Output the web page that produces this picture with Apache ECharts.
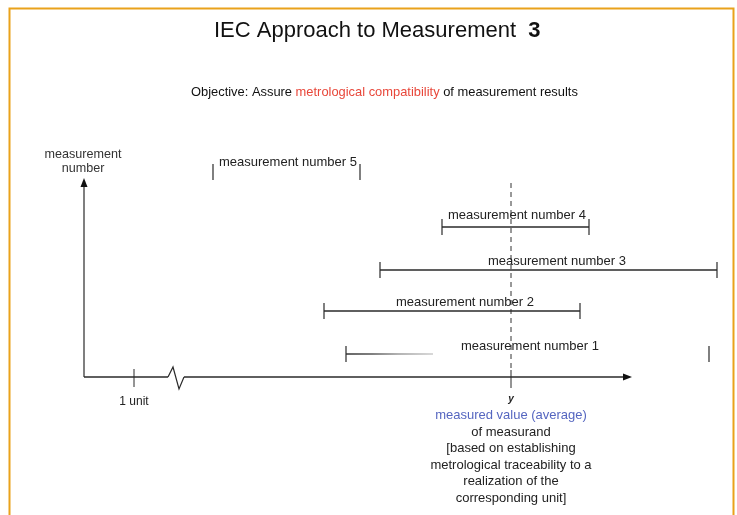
<!DOCTYPE html>
<html>
<head>
<meta charset="utf-8">
<script src="https://cdn.jsdelivr.net/npm/echarts@6/dist/echarts.min.js"></script>
<style>html,body{margin:0;padding:0;background:#fff;}#c{width:737px;height:515px;}</style>
</head>
<body>
<div id="c"></div>
<script>
// ---- data (arbitrary measurand units) ----
const measurementNames = ['measurement number 1','measurement number 2','measurement number 3','measurement number 4','measurement number 5'];
const measurementLevels = [2.3, 6.6, 10.7, 15.0, 20.5];
const lowerBounds = [26.2, 24.0, 29.6, 35.8, 12.9];
const upperBounds = [62.5, 49.6, 63.3, 50.5, 27.6];
const drawnLineEnd = [34.9, 49.6, 63.3, 50.5, null];   // #1 fades out, #5 has no bar
const labelX = [44.6, 38.1, 47.3, 43.3, 20.4];
const labelY = [3.1, 7.5, 11.6, 16.2, 21.5];
const meanValue = 42.7;
const unitTick = 5.0;
const axisBreakAt = 8.4;
const xAxisEnd = 54.8;
const yAxisTop = 19.9;
const dashedTop = 19.4;
const captionLines = ['of measurand','[based on establishing','metrological traceability to a','realization of the','corresponding unit]'];

const FONT = '"Liberation Sans", Arial, sans-serif';
const LINE = '#2a2a2a';
const TXT = '#222';

const chart = echarts.init(document.getElementById('c'), null, {renderer:'canvas'});

function renderAxes(params, api) {
  const o = api.coord([0, 0]);
  const top = api.coord([0, yAxisTop]);
  const xe = api.coord([xAxisEnd, 0]);
  const br = api.coord([axisBreakAt, 0]);
  const ut = api.coord([unitTick, 0]);
  const mv = api.coord([meanValue, 0]);
  const dt = api.coord([meanValue, dashedTop]);
  const ch = [];
  // vertical axis
  ch.push({type:'line', shape:{x1:o[0], y1:o[1], x2:top[0], y2:top[1]+7}, style:{stroke:'#555', lineWidth:1.5}});
  ch.push({type:'polygon', shape:{points:[[top[0], top[1]],[top[0]-3.5, top[1]+9],[top[0]+3.5, top[1]+9]]}, style:{fill:'#111'}});
  // horizontal axis with break
  ch.push({type:'line', shape:{x1:o[0], y1:o[1], x2:br[0], y2:br[1]}, style:{stroke:LINE, lineWidth:1.5}});
  ch.push({type:'polyline', shape:{points:[[br[0],br[1]],[br[0]+5,br[1]-10],[br[0]+11,br[1]+12],[br[0]+16,br[1]]]}, style:{stroke:LINE, lineWidth:1.2, fill:null}});
  ch.push({type:'line', shape:{x1:br[0]+16, y1:o[1], x2:xe[0]-6, y2:xe[1]}, style:{stroke:LINE, lineWidth:1.5}});
  ch.push({type:'polygon', shape:{points:[[xe[0], xe[1]],[xe[0]-9, xe[1]-3.5],[xe[0]-9, xe[1]+3.5]]}, style:{fill:'#111'}});
  // unit tick
  ch.push({type:'line', shape:{x1:ut[0], y1:ut[1]-8, x2:ut[0], y2:ut[1]+10}, style:{stroke:LINE, lineWidth:1}});
  ch.push({type:'text', style:{text:'1 unit', x:ut[0], y:ut[1]+25, fill:TXT, font:'12px '+FONT, align:'center', verticalAlign:'middle'}});
  // mean tick + dashed
  ch.push({type:'line', shape:{x1:mv[0], y1:mv[1]-7, x2:mv[0], y2:mv[1]+11}, style:{stroke:LINE, lineWidth:1}});
  ch.push({type:'line', shape:{x1:mv[0], y1:mv[1]-9, x2:dt[0], y2:dt[1]}, style:{stroke:'#333', lineWidth:1, lineDash:[5,4]}});
  // y-axis title
  ch.push({type:'text', style:{text:'measurement', x:top[0]-1, y:top[1]-23, fill:'#333', font:'12.6px '+FONT, align:'center', verticalAlign:'middle'}});
  ch.push({type:'text', style:{text:'number', x:top[0]-1, y:top[1]-9, fill:'#333', font:'12.6px '+FONT, align:'center', verticalAlign:'middle'}});
  // caption under mean
  ch.push({type:'text', style:{text:'y', x:mv[0], y:mv[1]+22, fill:TXT, font:'italic bold 10px '+FONT, align:'center', verticalAlign:'middle'}});
  ch.push({type:'text', style:{text:'measured value (average)', x:mv[0], y:mv[1]+38, fill:'#5566c0', font:'13px '+FONT, align:'center', verticalAlign:'middle'}});
  captionLines.forEach(function (t, i) {
    ch.push({type:'text', style:{text:t, x:mv[0], y:mv[1]+55+i*16.6, fill:TXT, font:'13px '+FONT, align:'center', verticalAlign:'middle'}});
  });
  return {type:'group', children:ch};
}

function renderInterval(params, api) {
  const i = params.dataIndex;
  const lv = measurementLevels[i];
  const a = api.coord([lowerBounds[i], lv]);
  const b = api.coord([upperBounds[i], lv]);
  const ch = [];
  ch.push({type:'line', shape:{x1:a[0], y1:a[1]-8, x2:a[0], y2:a[1]+8}, style:{stroke:LINE, lineWidth:1.2}});
  ch.push({type:'line', shape:{x1:b[0], y1:b[1]-8, x2:b[0], y2:b[1]+8}, style:{stroke:LINE, lineWidth:1.2}});
  if (drawnLineEnd[i] != null) {
    const e = api.coord([drawnLineEnd[i], lv]);
    let stroke = LINE;
    if (drawnLineEnd[i] < upperBounds[i]) {
      stroke = new echarts.graphic.LinearGradient(a[0], 0, e[0], 0, [
        {offset:0, color:'#333'},{offset:0.3, color:'#555'},{offset:0.6, color:'#999'},{offset:1, color:'#ccc'}
      ], true);
    }
    ch.push({type:'line', shape:{x1:a[0], y1:a[1], x2:e[0], y2:e[1]}, style:{stroke:stroke, lineWidth:1.5}});
  }
  const lp = api.coord([labelX[i], labelY[i]]);
  ch.push({type:'text', style:{text:measurementNames[i], x:lp[0], y:lp[1], fill:TXT, font:'13px '+FONT, align:'center', verticalAlign:'middle'}});
  return {type:'group', children:ch};
}

chart.setOption({
  animation:false,
  backgroundColor:'#fff',
  grid:{left:84, right:13, top:147, bottom:138},
  xAxis:{type:'value', min:0, max:64, show:false},
  yAxis:{type:'value', min:0, max:23, show:false},
  graphic:[
    {type:'rect', shape:{x:9.5, y:8.5, width:724, height:530}, style:{fill:null, stroke:'#e9a21b', lineWidth:2}, silent:true},
    {type:'text', left:214, top:20, style:{
      text:'{a|IEC Approach to Measurement  }{b|3}',
      rich:{a:{font:'22px '+FONT, fill:'#111'}, b:{font:'bold 22px '+FONT, fill:'#111'}}
    }},
    {type:'text', left:191, top:86, style:{
      text:'{a|Objective: Assure }{r|metrological compatibility}{a| of measurement results}',
      rich:{a:{font:'12.9px '+FONT, fill:'#111'}, r:{font:'12.9px '+FONT, fill:'#e8473a'}}
    }}
  ],
  series:[
    {type:'custom', clip:false, silent:true, renderItem:renderAxes, data:[[0,0]]},
    {type:'custom', clip:false, silent:true, renderItem:renderInterval,
      data:measurementLevels.map(function (v, i) { return [lowerBounds[i], v, upperBounds[i]]; })}
  ]
});
</script>
</body>
</html>
